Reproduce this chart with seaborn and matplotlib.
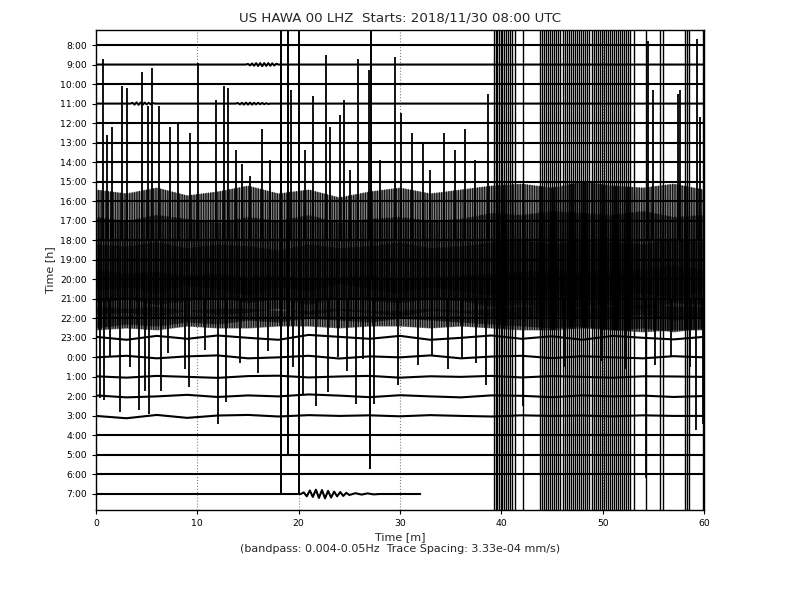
import numpy as np
import pandas as pd
import matplotlib
matplotlib.use("Agg")
import matplotlib.pyplot as plt
import seaborn as sns

# -----------------------------
# Data (amplitudes in trace-spacing units, positive = up)
# -----------------------------
hour_labels = ["8:00", "9:00", "10:00", "11:00", "12:00", "13:00", "14:00", "15:00",
               "16:00", "17:00", "18:00", "19:00", "20:00", "21:00", "22:00", "23:00",
               "0:00", "1:00", "2:00", "3:00", "4:00", "5:00", "6:00", "7:00"]

grid_min = list(range(0, 61, 3))   # coarse sample times for slow wobble / envelope

wobble_23 = [0.05, -0.10, 0.10, -0.05, 0.12, 0.00, -0.10, 0.15, 0.05, -0.05, 0.10,
             -0.10, 0.00, 0.12, -0.05, 0.08, -0.10, 0.10, 0.00, -0.08, 0.05]
wobble_00 = [0.00, 0.08, -0.05, 0.05, 0.10, -0.05, 0.00, 0.08, -0.06, 0.05, 0.00,
             0.10, -0.05, 0.04, 0.08, -0.04, 0.06, 0.00, -0.05, 0.06, 0.00]
wobble_01 = [0.03, -0.04, 0.05, 0.00, -0.05, 0.04, 0.06, -0.03, 0.02, 0.05, -0.04,
             0.03, 0.00, 0.05, -0.03, 0.04, 0.00, -0.04, 0.03, 0.02, 0.00]
wobble_02 = [0.05, -0.05, 0.00, 0.08, -0.03, 0.05, 0.00, 0.10, 0.04, -0.04, 0.06,
             0.00, -0.05, 0.05, 0.03, -0.04, 0.05, 0.00, 0.04, -0.03, 0.02]
wobble_03 = [0.00, -0.12, 0.05, -0.10, 0.02, 0.05, -0.03, 0.04, 0.00, 0.03, -0.02,
             0.04, 0.00, -0.03, 0.03, 0.00, 0.02, -0.02, 0.03, 0.00, 0.00]

# dense surface-wave traces: half-width of the oscillation band
env_18 = [2.6, 2.4, 2.7, 2.3, 2.5, 2.8, 2.4, 2.6, 2.2, 2.5, 2.7, 2.4, 2.6, 2.8, 2.9,
          2.7, 3.0, 2.8, 2.7, 2.9, 2.6]
env_19 = [2.2, 2.0, 2.3, 2.1, 1.9, 2.2, 2.0, 2.3, 1.9, 2.1, 2.2, 2.0, 2.1, 2.4, 2.3,
          2.5, 2.4, 2.3, 2.5, 2.2, 2.3]
env_20 = [1.8, 1.7, 1.9, 1.6, 1.8, 1.7, 1.5, 1.8, 1.6, 1.7, 1.9, 1.6, 1.7, 1.9, 2.0,
          1.8, 2.0, 1.9, 1.8, 2.1, 1.9]
env_21 = [1.5, 1.3, 1.4, 1.2, 1.3, 1.1, 1.2, 1.0, 1.1, 1.2, 1.0, 1.1, 1.2, 1.3, 1.4,
          1.5, 1.4, 1.6, 1.5, 1.7, 1.5]
env_22 = [0.6, 0.5, 0.6, 0.4, 0.5, 0.5, 0.4, 0.4, 0.5, 0.4, 0.4, 0.5, 0.4, 0.5, 0.6,
          0.6, 0.5, 0.6, 0.7, 0.6, 0.6]

# small wave packets
packet_09_min = [14.8, 15.0, 15.2, 15.4, 15.6, 15.8, 16.0, 16.2, 16.4, 16.6, 16.8,
                 17.0, 17.2, 17.4, 17.6, 17.8, 18.0]
packet_09_val = [0, .03, -.04, .05, -.06, .07, -.07, .07, -.08, .07, -.07, .07, -.06,
                 .06, -.05, .04, 0]
packet_11_min = [3.4, 3.6, 3.8, 4.0, 4.2, 4.4, 4.6, 4.8, 5.0, 5.2, 5.4, 5.6, 5.8,
                 13.8, 14.0, 14.2, 14.4, 14.6, 14.8, 15.0, 15.2, 15.4, 15.6, 15.8,
                 16.0, 16.2, 16.4, 16.6, 16.8, 17.0, 17.2]
packet_11_val = [0, .04, -.05, .06, -.06, .05, -.06, .05, -.04, .04, -.03, .03, 0,
                 0, .03, -.04, .04, -.05, .05, -.05, .05, -.05, .04, -.04, .04, -.03,
                 .03, -.03, .02, -.02, 0]
packet_07_min = [20.2, 20.5, 20.8, 21.1, 21.4, 21.7, 22.0, 22.3, 22.6, 22.9, 23.2,
                 23.5, 23.8, 24.1, 24.4, 24.7, 25.0, 25.6, 26.2, 26.8, 27.4, 28.0]
packet_07_val = [0, .08, -.12, .18, -.15, .22, -.20, .20, -.22, .16, -.18, .12, -.12,
                 .10, -.10, .06, -.05, .04, -.03, .03, -.02, 0]
last_minute_07 = 32

# upward spikes of the 18:00 trace
up_spike_min = [0.7, 1.1, 1.6, 2.6, 3.1, 4.5, 5.1, 5.5, 6.2, 7.3, 8.1, 9.3, 10.1, 11.8,
                12.6, 13.0, 13.8, 14.4, 15.2, 16.4, 17.2, 18.3, 19.2, 20.6, 21.4, 22.7,
                23.1, 24.1, 24.5, 25.1, 25.9, 26.9, 28.0, 29.5, 30.1, 31.2, 32.3, 33.0,
                34.3, 35.4, 36.4, 37.4, 38.7, 54.5, 55.0, 57.4, 57.6, 59.3, 59.6]
up_spike_amp = [9.3, 5.4, 5.8, 7.9, 7.8, 8.6, 6.9, 8.8, 6.9, 5.8, 6.0, 5.5, 9.1, 7.2,
                7.9, 7.8, 4.6, 3.9, 3.3, 5.7, 4.1, 9.2, 7.7, 4.6, 7.4, 9.5, 5.8, 6.4,
                7.2, 3.6, 9.3, 8.7, 4.1, 9.4, 6.5, 5.5, 5.0, 3.6, 5.5, 4.6, 5.7, 4.1,
                7.5, 10.2, 7.7, 7.5, 7.7, 10.3, 6.3]

# downward spikes of the 21:00 trace
down_spike_min = [0.4, 0.8, 1.4, 2.4, 3.4, 4.2, 4.8, 5.2, 6.4, 7.1, 8.8, 9.2, 10.8, 12.0,
                  12.8, 14.2, 16.0, 17.0, 19.4, 20.4, 21.7, 22.9, 23.9, 24.8, 25.7,
                  26.3, 27.4, 29.8, 31.8, 33.2, 34.7, 36.1, 37.5, 38.5, 42.1, 46.3,
                  49.8, 52.2, 54.3, 55.2, 56.7, 58.6, 59.2, 59.9]
down_spike_amp = [-5.1, -5.2, -3.0, -5.8, -3.5, -5.7, -4.7, -5.9, -4.7, -2.8, -3.6,
                  -4.5, -2.6, -6.4, -5.3, -3.3, -3.8, -2.7, -3.5, -4.9, -5.5, -4.8,
                  -3.0, -3.7, -5.4, -3.1, -5.4, -4.4, -3.4, -2.9, -3.6, -3.1, -3.3,
                  -4.4, -5.5, -3.5, -3.2, -3.6, -9.2, -3.4, -3.0, -3.5, -6.7, -6.4]

# single large excursions of other traces
big_spike_trace = ["7:00", "7:00", "5:00", "20:00", "20:00"]
big_spike_min = [18.3, 20.0, 18.9, 27.1, 27.0]
big_spike_amp = [25.0, 25.0, 25.0, 13.0, -9.7]

# Anchorage M7.1 arrivals on the 17:00 trace (off scale in both directions)
quake_min = [39.3, 39.5, 39.6, 39.8, 40.0, 40.1, 40.3, 40.5, 40.7, 40.9, 41.1, 41.3,
             42.1, 43.8, 44.0, 44.2, 44.4, 44.6, 44.8, 45.0, 45.2, 45.4, 45.6, 45.8,
             46.1, 46.3, 46.5, 46.7, 46.9, 47.1, 47.3, 47.5, 47.7, 47.9, 48.1, 48.3,
             48.5, 48.7, 48.9, 49.1, 49.3, 49.5, 49.7, 49.9, 50.1, 50.3, 50.5, 50.7,
             50.9, 51.1, 51.3, 51.5, 51.7, 51.9, 52.1, 52.3, 52.5, 52.7, 53.1, 54.3,
             55.7, 56.0, 58.1, 58.3, 58.5, 59.9]
quake_amp = 30.0

# -----------------------------
# Build long table of trace lines
# -----------------------------
wobbles = {"23:00": wobble_23, "0:00": wobble_00, "1:00": wobble_01,
           "2:00": wobble_02, "3:00": wobble_03}
envelopes = {"18:00": env_18, "19:00": env_19, "20:00": env_20,
             "21:00": env_21, "22:00": env_22}
packets = {"9:00": (packet_09_min, packet_09_val),
           "11:00": (packet_11_min, packet_11_val),
           "7:00": (packet_07_min, packet_07_val)}
row = {lab: i for i, lab in enumerate(hour_labels)}

records = []
for lab in hour_labels:
    vals = wobbles.get(lab, [0.0] * len(grid_min))
    pts = [(m, v) for m, v in zip(grid_min, vals)]
    if lab == "7:00":
        pts = [(m, v) for m, v in pts if m < last_minute_07] + [(last_minute_07, 0.0)]
    if lab in packets:
        pm, pv = packets[lab]
        pts = [(m, v) for m, v in pts if not any(abs(m - x) < 0.3 for x in pm)]
        pts += list(zip(pm, pv))
    pts.sort()
    for m, v in pts:
        records.append({"trace": lab, "minute": m, "pos": row[lab] - v})
traces = pd.DataFrame(records)

# -----------------------------
# Plot
# -----------------------------
sns.set_style("white")
plt.rcParams["font.family"] = ["DejaVu Sans"]
plt.rcParams["hatch.linewidth"] = 1.0

fig = plt.figure(figsize=(8, 6), dpi=100)
ax = fig.add_axes([0.12, 0.15, 0.76, 0.80])

ax.grid(axis="x", color="gray", linestyle=":", linewidth=0.8, zorder=0)

for lab, env in envelopes.items():
    base = row[lab]
    lo = [base - e for e in env]
    hi = [base + e for e in env]
    ax.fill_between(grid_min, lo, hi, color="k", alpha=0.42, linewidth=0, zorder=2)
    ax.fill_between(grid_min, lo, hi, facecolor="none", edgecolor="k",
                    hatch="|||||||", linewidth=0, alpha=0.85, zorder=2)

sns.lineplot(data=traces, x="minute", y="pos", units="trace", estimator=None,
             sort=False, color="k", linewidth=1.5, legend=False, ax=ax, zorder=3)

ax.vlines(up_spike_min, row["18:00"], [row["18:00"] - a for a in up_spike_amp],
          color="k", linewidth=1.3, zorder=3)
ax.vlines(down_spike_min, row["21:00"], [row["21:00"] - a for a in down_spike_amp],
          color="k", linewidth=1.3, zorder=3)
ax.vlines(big_spike_min, [row[t] for t in big_spike_trace],
          [row[t] - a for t, a in zip(big_spike_trace, big_spike_amp)],
          color="k", linewidth=1.4, zorder=3)
ax.vlines(quake_min, row["17:00"] - quake_amp, row["17:00"] + quake_amp,
          color="k", linewidth=1.0, zorder=3)

ax.set_xlim(0, 60)
ax.set_ylim(len(hour_labels) - 1 + 0.82, -0.77)
ax.set_xticks(range(0, 61, 10))
ax.set_yticks(range(len(hour_labels)))
ax.set_yticklabels(hour_labels)
ax.tick_params(axis="both", labelsize=6.7, length=3, width=0.8, direction="out",
               left=True, bottom=True, colors="k")
for s in ax.spines.values():
    s.set_color("k")
    s.set_linewidth(1.0)

ax.set_title("US HAWA 00 LHZ  Starts: 2018/11/30 08:00 UTC", fontsize=9.6)
ax.set_ylabel("Time [h]", fontsize=8)
ax.set_xlabel("Time [m]\n(bandpass: 0.004-0.05Hz  Trace Spacing: 3.33e-04 mm/s)",
              fontsize=8, labelpad=3)

fig.savefig("out.png", dpi=100)
